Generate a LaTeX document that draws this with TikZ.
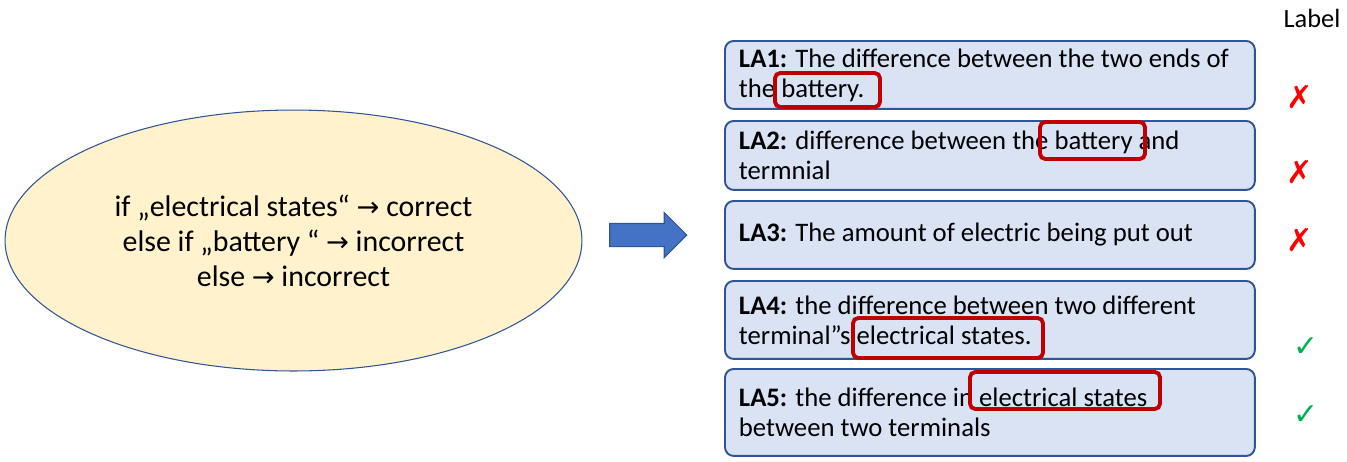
\documentclass[tikz,border=0pt]{standalone}
\usepackage{fontspec}
\setmainfont{Carlito}
\newfontfamily\symfont{DejaVu Sans}
\usepackage{xcolor}
\usetikzlibrary{shapes.geometric, shapes.arrows}
\definecolor{ellfill}{HTML}{FFF2CC}
\definecolor{boxfill}{HTML}{DAE3F3}
\definecolor{boxline}{HTML}{2F5597}
\definecolor{arrfill}{HTML}{4472C4}
\definecolor{hlred}{HTML}{C00000}
\definecolor{okgreen}{HTML}{00B050}
\newcommand{\ra}{{\symfont\fontsize{15.5}{15.5}\selectfont →}}

\begin{document}
\begin{tikzpicture}[
  x=0.02cm, y=-0.02cm,
  rule/.style={ellipse, draw=boxline, line width=0.6pt, fill=ellfill, minimum width=11.54cm, minimum height=5.22cm, align=center, font=\fontsize{17}{20}\selectfont},
  answer/.style={draw=boxline, line width=1.1pt, fill=boxfill, rounded corners=5pt, anchor=north west, minimum width=10.6cm, inner xsep=0.28cm, text width=10.04cm, align=flush left, font=\fontsize{15.2}{17}\selectfont},
  hl/.style={draw=hlred, line width=2.2pt, rounded corners=3pt},
  wrong/.style={text=red, font=\symfont\fontsize{18}{18}\selectfont},
  okmark/.style={text=okgreen, font=\symfont\fontsize{17}{17}\selectfont},
  bigarrow/.style={single arrow, draw=boxline, line width=0.6pt, fill=arrfill, minimum height=1.54cm, inner sep=0pt, text height=0.44cm, text depth=0pt, text width=0pt, single arrow head extend=0.22cm}
]
\useasboundingbox (0,0) rectangle (1347,461);

% Rule
\node[rule] (rule) at (293.5,240.5) {if „electrical states“ \ra{} correct\\ else if „battery “ \ra{} incorrect\\ else \ra{} incorrect};

% Arrow
\node[bigarrow] (arr) at (642.5,235) {};

% Header
\node[font=\fontsize{15}{15}\selectfont] (lab) at (1312,18) {Label};

% Student answers
\node[answer, minimum height=1.36cm] (la1) at (724,40) {\textbf{LA1:} The difference between the two ends of\\ the battery.};
\node[answer, minimum height=1.38cm] (la2) at (724,120) {\textbf{LA2:} difference between the battery and\\ termnial};
\node[answer, minimum height=1.36cm] (la3) at (724,200) {\textbf{LA3:} The amount of electric being put out};
\node[answer, minimum height=1.56cm] (la4) at (724,280) {\textbf{LA4:} the difference between two different\\ terminal\char34 s electrical states.};
\node[answer, minimum height=1.74cm] (la5) at (724,368) {\textbf{LA5:} the difference in electrical states\\ between two terminals};

% Keyword highlights
\draw[hl] (775,73) rectangle (880,107);
\draw[hl] (1040,122) rectangle (1145,159);
\draw[hl] (853,318) rectangle (1043,358);
\draw[hl] (970,372) rectangle (1160,409);

% Labels
\node[wrong] (m1) at (1300,97) {✗};
\node[wrong] (m2) at (1300,172) {✗};
\node[wrong] (m3) at (1300,240) {✗};
\node[okmark] (m4) at (1306,347) {✓};
\node[okmark] (m5) at (1306,415) {✓};

\end{tikzpicture}
\end{document}
